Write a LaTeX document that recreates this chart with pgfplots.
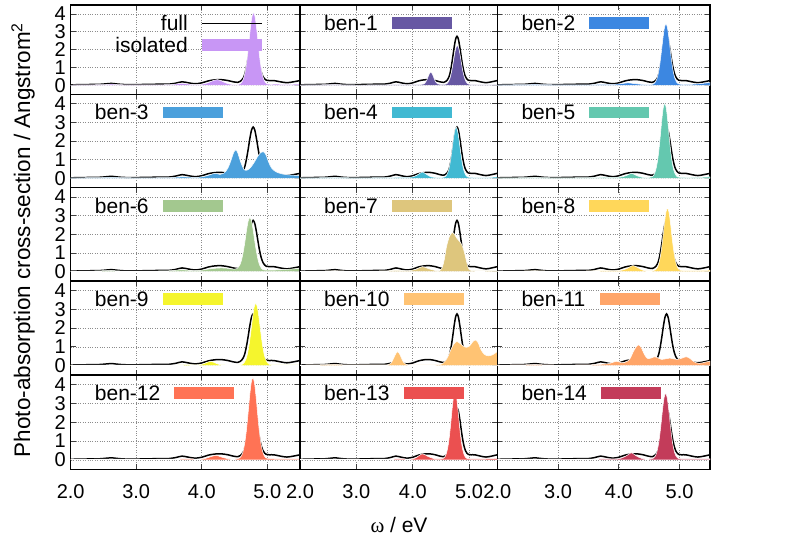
\documentclass[border=0pt]{standalone}
\usepackage{fontspec}
\setmainfont{Liberation Sans}
\newfontfamily\grk{Liberation Serif}
\usepackage{pgfplots}
\usepackage{pgfplotstable}
\pgfplotsset{compat=1.18}
\newcommand\lbl{\fontsize{21}{25}\selectfont}
\newcommand\tlbl{\fontsize{20}{24}\selectfont}
\newcommand\ylbl{\fontsize{22.5}{27}\selectfont}
\definecolor{ciso}{RGB}{200,150,245}
\definecolor{cb1}{RGB}{103,88,163}
\definecolor{cb2}{RGB}{60,135,225}
\definecolor{cb3}{RGB}{75,160,220}
\definecolor{cb4}{RGB}{65,185,210}
\definecolor{cb5}{RGB}{100,200,175}
\definecolor{cb6}{RGB}{163,200,143}
\definecolor{cb7}{RGB}{222,198,125}
\definecolor{cb8}{RGB}{255,215,90}
\definecolor{cb9}{RGB}{245,245,45}
\definecolor{cb10}{RGB}{255,195,115}
\definecolor{cb11}{RGB}{255,165,105}
\definecolor{cb12}{RGB}{255,115,85}
\definecolor{cb13}{RGB}{235,80,80}
\definecolor{cb14}{RGB}{195,60,90}

\pgfplotstableread{
x y
2.00 0.03
2.15 0.04
2.30 0.05
2.45 0.06
2.55 0.09
2.62 0.11
2.70 0.08
2.80 0.05
2.95 0.04
3.10 0.05
3.25 0.06
3.40 0.07
3.50 0.07
3.60 0.12
3.70 0.20
3.80 0.14
3.90 0.09
4.00 0.14
4.10 0.25
4.20 0.31
4.30 0.32
4.40 0.27
4.48 0.20
4.55 0.17
4.585 0.22
4.61 0.29
4.635 0.42
4.66 0.66
4.685 1.07
4.71 1.58
4.735 2.14
4.76 2.58
4.785 2.75
4.81 2.58
4.835 2.14
4.86 1.60
4.885 1.10
4.91 0.73
4.935 0.49
4.96 0.36
4.985 0.29
5.03 0.27
5.10 0.27
5.20 0.20
5.30 0.15
5.40 0.20
5.50 0.27
}\tfull

\pgfplotstableread{
x y
2.00 0.02
2.30 0.03
2.55 0.05
2.62 0.07
2.70 0.05
2.85 0.03
3.20 0.03
3.50 0.04
3.62 0.08
3.70 0.12
3.80 0.07
3.90 0.04
4.00 0.06
4.10 0.15
4.18 0.28
4.24 0.32
4.30 0.25
4.38 0.12
4.46 0.05
4.54 0.03
4.59 0.09
4.615 0.20
4.64 0.41
4.665 0.80
4.69 1.41
4.715 2.22
4.74 3.11
4.765 3.82
4.79 4.08
4.815 3.82
4.84 3.11
4.865 2.22
4.89 1.41
4.915 0.80
4.94 0.41
4.965 0.20
4.99 0.09
5.05 0.06
5.15 0.07
5.25 0.05
5.38 0.06
5.50 0.08
}\tiso

\pgfplotstableread{
x y
2.00 0.02
2.60 0.04
3.00 0.02
3.60 0.03
3.75 0.05
3.90 0.03
4.05 0.04
4.15 0.05
4.20 0.08
4.23 0.18
4.26 0.38
4.29 0.62
4.32 0.74
4.35 0.62
4.38 0.38
4.41 0.18
4.44 0.08
4.50 0.05
4.56 0.05
4.59 0.07
4.615 0.12
4.64 0.24
4.665 0.45
4.69 0.78
4.715 1.22
4.74 1.70
4.765 2.09
4.79 2.23
4.815 2.09
4.84 1.70
4.865 1.22
4.89 0.78
4.915 0.45
4.94 0.24
4.965 0.12
4.99 0.07
5.05 0.04
5.30 0.03
5.50 0.04
}\tbA

\pgfplotstableread{
x y
2.00 0.02
2.60 0.05
3.00 0.03
3.50 0.03
3.70 0.06
3.90 0.05
4.05 0.10
4.15 0.14
4.25 0.10
4.40 0.05
4.52 0.04
4.575 0.09
4.60 0.18
4.625 0.36
4.65 0.69
4.675 1.20
4.70 1.88
4.725 2.62
4.75 3.22
4.775 3.44
4.80 3.22
4.825 2.62
4.85 1.88
4.875 1.20
4.90 0.69
4.925 0.36
4.95 0.18
4.975 0.09
5.03 0.05
5.20 0.06
5.35 0.10
5.50 0.16
}\tbB

\pgfplotstableread{
x y
2.00 0.02
2.60 0.05
3.00 0.03
3.50 0.04
3.70 0.08
3.90 0.05
4.00 0.08
4.10 0.16
4.20 0.27
4.28 0.21
4.34 0.28
4.40 0.55
4.45 1.00
4.49 1.40
4.52 1.52
4.55 1.36
4.60 0.82
4.65 0.46
4.70 0.45
4.75 0.60
4.80 0.85
4.85 1.15
4.90 1.38
4.94 1.43
4.98 1.26
5.02 0.88
5.07 0.53
5.15 0.32
5.25 0.22
5.35 0.18
5.50 0.15
}\tbC

\pgfplotstableread{
x y
2.00 0.02
2.60 0.04
3.00 0.03
3.60 0.04
3.75 0.06
3.90 0.05
4.00 0.08
4.08 0.18
4.17 0.34
4.25 0.20
4.32 0.08
4.45 0.04
4.53 0.05
4.57 0.08
4.595 0.15
4.62 0.30
4.645 0.55
4.67 0.96
4.695 1.50
4.72 2.09
4.745 2.56
4.77 2.74
4.795 2.56
4.82 2.09
4.845 1.50
4.87 0.96
4.895 0.55
4.92 0.30
4.945 0.15
4.97 0.08
5.03 0.05
5.30 0.04
5.50 0.08
}\tbD

\pgfplotstableread{
x y
2.00 0.02
2.60 0.04
3.00 0.03
3.60 0.04
3.75 0.06
3.95 0.05
4.05 0.08
4.13 0.16
4.21 0.27
4.29 0.15
4.38 0.06
4.48 0.04
4.555 0.10
4.58 0.21
4.605 0.42
4.63 0.80
4.655 1.39
4.68 2.19
4.705 3.06
4.73 3.76
4.755 4.02
4.78 3.76
4.805 3.06
4.83 2.19
4.855 1.39
4.88 0.80
4.905 0.42
4.93 0.21
4.955 0.10
5.02 0.05
5.30 0.05
5.50 0.08
}\tbE

\pgfplotstableread{
x y
2.00 0.02
2.30 0.03
2.60 0.06
2.80 0.03
3.20 0.03
3.50 0.05
3.70 0.10
3.85 0.06
4.00 0.08
4.10 0.14
4.20 0.18
4.30 0.20
4.40 0.18
4.48 0.14
4.535 0.16
4.56 0.24
4.585 0.38
4.61 0.65
4.635 1.07
4.66 1.62
4.685 2.23
4.71 2.72
4.735 2.90
4.76 2.72
4.785 2.23
4.81 1.62
4.835 1.07
4.86 0.63
4.885 0.34
4.91 0.18
4.935 0.11
5.00 0.08
5.20 0.10
5.40 0.15
5.50 0.18
}\tbF

\pgfplotstableread{
x y
2.00 0.02
2.60 0.04
3.00 0.03
3.50 0.04
3.70 0.07
3.90 0.05
4.05 0.12
4.17 0.27
4.28 0.16
4.40 0.06
4.48 0.06
4.52 0.20
4.56 0.65
4.60 1.35
4.65 1.88
4.70 2.10
4.74 2.00
4.78 1.80
4.82 1.66
4.87 1.45
4.91 1.10
4.95 0.60
4.98 0.25
5.02 0.08
5.10 0.05
5.30 0.05
5.50 0.06
}\tbG

\pgfplotstableread{
x y
2.00 0.02
2.60 0.04
3.00 0.03
3.60 0.04
3.75 0.06
3.95 0.05
4.05 0.08
4.14 0.18
4.23 0.33
4.31 0.22
4.40 0.07
4.52 0.04
4.60 0.09
4.625 0.18
4.65 0.36
4.675 0.68
4.70 1.18
4.725 1.85
4.75 2.59
4.775 3.18
4.80 3.40
4.825 3.18
4.85 2.59
4.875 1.85
4.90 1.18
4.925 0.68
4.95 0.36
4.975 0.18
5.00 0.09
5.06 0.06
5.30 0.06
5.50 0.08
}\tbH

\pgfplotstableread{
x y
2.00 0.02
2.60 0.03
3.00 0.02
3.60 0.03
3.75 0.05
3.95 0.04
4.03 0.10
4.10 0.20
4.15 0.22
4.22 0.12
4.30 0.04
4.50 0.03
4.60 0.04
4.625 0.08
4.65 0.17
4.675 0.34
4.70 0.65
4.725 1.15
4.75 1.80
4.775 2.52
4.80 3.10
4.825 3.31
4.85 3.10
4.875 2.52
4.90 1.80
4.925 1.15
4.95 0.65
4.975 0.34
5.00 0.17
5.025 0.08
5.10 0.04
5.50 0.04
}\tbI

\pgfplotstableread{
x y
2.00 0.03
2.30 0.04
2.60 0.07
2.80 0.04
3.20 0.04
3.50 0.04
3.58 0.06
3.62 0.15
3.66 0.38
3.70 0.64
3.73 0.74
3.76 0.66
3.80 0.40
3.84 0.16
3.89 0.05
3.95 0.04
4.20 0.04
4.45 0.05
4.53 0.10
4.58 0.25
4.63 0.52
4.68 0.88
4.73 1.15
4.78 1.28
4.83 1.20
4.89 1.05
4.95 0.97
5.01 1.05
5.06 1.25
5.11 1.36
5.16 1.22
5.21 0.85
5.27 0.60
5.34 0.52
5.42 0.58
5.50 0.75
}\tbJ

\pgfplotstableread{
x y
2.00 0.02
2.60 0.05
3.00 0.03
3.50 0.04
3.75 0.08
3.85 0.12
3.96 0.23
4.05 0.15
4.12 0.20
4.18 0.35
4.24 0.75
4.29 1.02
4.33 1.10
4.37 0.95
4.42 0.60
4.47 0.38
4.53 0.40
4.59 0.47
4.65 0.40
4.70 0.33
4.77 0.36
4.84 0.40
4.90 0.36
4.96 0.33
5.04 0.40
5.11 0.47
5.17 0.38
5.24 0.20
5.32 0.12
5.42 0.18
5.50 0.24
}\tbK

\pgfplotstableread{
x y
2.00 0.02
2.60 0.04
3.00 0.03
3.60 0.04
3.75 0.06
3.95 0.04
4.05 0.07
4.14 0.17
4.22 0.24
4.30 0.15
4.40 0.06
4.50 0.04
4.58 0.10
4.605 0.21
4.63 0.44
4.655 0.85
4.68 1.50
4.705 2.37
4.73 3.32
4.755 4.08
4.78 4.36
4.805 4.08
4.83 3.32
4.855 2.37
4.88 1.50
4.905 0.85
4.93 0.44
4.955 0.21
4.98 0.10
5.05 0.07
5.20 0.05
5.50 0.05
}\tbL

\pgfplotstableread{
x y
2.00 0.02
2.60 0.04
3.00 0.03
3.60 0.04
3.75 0.06
3.95 0.04
4.05 0.10
4.17 0.32
4.27 0.18
4.38 0.06
4.48 0.05
4.55 0.09
4.575 0.18
4.60 0.37
4.625 0.71
4.65 1.24
4.675 1.95
4.70 2.74
4.725 3.36
4.75 3.59
4.775 3.36
4.80 2.74
4.825 1.95
4.85 1.24
4.875 0.71
4.90 0.37
4.925 0.18
4.95 0.09
5.05 0.05
5.30 0.06
5.50 0.08
}\tbM

\pgfplotstableread{
x y
2.00 0.02
2.60 0.04
3.00 0.03
3.60 0.04
3.75 0.06
3.95 0.05
4.05 0.10
4.14 0.25
4.21 0.38
4.28 0.22
4.38 0.07
4.48 0.04
4.57 0.09
4.595 0.18
4.62 0.36
4.645 0.70
4.67 1.22
4.695 1.92
4.72 2.69
4.745 3.30
4.77 3.53
4.795 3.30
4.82 2.69
4.845 1.92
4.87 1.22
4.895 0.70
4.92 0.36
4.945 0.18
4.97 0.09
5.05 0.05
5.30 0.05
5.50 0.06
}\tbN

\pgfplotsset{
  panel/.style={scale only axis, anchor=north west,
    xmin=2, xmax=5.5, ymin=-0.5, ymax=4.5,
    xtick={2,3,4,5}, ytick={0,1,2,3,4},
    xticklabels={}, yticklabels={},
    tick align=inside, major tick length=5pt,
    tick style={black!75, line width=0.8pt},
    xtick pos=both, ytick pos=both,
    grid=major, grid style={dotted, black!45, line width=0.6pt},
    axis line style={black, line width=1.2pt},
    tick label style={font=\tlbl}},
  bl/.style={xticklabels={2.0,3.0,4.0,5.0},
    x tick label style={anchor=base, yshift=-28.7pt}},
  lc/.style={yticklabels={0,1,2,3,4}, y tick label style={xshift=-1.5pt, inner ysep=0pt}},
}
\newcommand\fullcurve{\addplot[black, line width=1.5pt, smooth] table {\tfull};}
\newcommand\spec[2]{\addplot[fill=#1, draw=white, line width=0.5pt, smooth] table {#2} \closedcycle;}
\newcommand\leg[2]{\node[anchor=west, inner sep=0pt, font=\lbl, xshift=24pt, yshift=-18pt] (L) at (rel axis cs:0,1) {#1};
  \fill[#2] ([xshift=14pt, yshift=-5.8pt]L.east) rectangle ++(60pt,11.6pt);}

\begin{document}
\begin{tikzpicture}
\useasboundingbox (0,0) rectangle (789pt,-552pt);
% row 1
\begin{axis}[panel, lc, at={(70.7pt,-5pt)}, width=229.3pt, height=89.3pt]
\fullcurve
\spec{ciso}{\tiso}
\node[anchor=east, inner sep=0pt, font=\lbl, xshift=117.3pt, yshift=-18.3pt] (A) at (rel axis cs:0,1) {full};
\draw[black, line width=1.5pt] ([xshift=14pt]A.east) -- ++(60pt,0pt);
\node[anchor=east, inner sep=0pt, font=\lbl, xshift=117.3pt, yshift=-40pt] (B) at (rel axis cs:0,1) {isolated};
\fill[ciso] ([xshift=14pt, yshift=-5.8pt]B.east) rectangle ++(60pt,11.6pt);
\end{axis}
\begin{axis}[panel, at={(300pt,-5pt)}, width=197.3pt, height=89.3pt]
\fullcurve \spec{cb1}{\tbA} \leg{ben-1}{cb1}
\end{axis}
\begin{axis}[panel, at={(497.3pt,-5pt)}, width=212.7pt, height=89.3pt]
\fullcurve \spec{cb2}{\tbB} \leg{ben-2}{cb2}
\end{axis}
% row 2
\begin{axis}[panel, lc, at={(70.7pt,-94.3pt)}, width=229.3pt, height=93.4pt]
\fullcurve \spec{cb3}{\tbC} \leg{ben-3}{cb3}
\end{axis}
\begin{axis}[panel, at={(300pt,-94.3pt)}, width=197.3pt, height=93.4pt]
\fullcurve \spec{cb4}{\tbD} \leg{ben-4}{cb4}
\end{axis}
\begin{axis}[panel, at={(497.3pt,-94.3pt)}, width=212.7pt, height=93.4pt]
\fullcurve \spec{cb5}{\tbE} \leg{ben-5}{cb5}
\end{axis}
% row 3
\begin{axis}[panel, lc, at={(70.7pt,-187.7pt)}, width=229.3pt, height=93.3pt]
\fullcurve \spec{cb6}{\tbF} \leg{ben-6}{cb6}
\end{axis}
\begin{axis}[panel, at={(300pt,-187.7pt)}, width=197.3pt, height=93.3pt]
\fullcurve \spec{cb7}{\tbG} \leg{ben-7}{cb7}
\end{axis}
\begin{axis}[panel, at={(497.3pt,-187.7pt)}, width=212.7pt, height=93.3pt]
\fullcurve \spec{cb8}{\tbH} \leg{ben-8}{cb8}
\end{axis}
% row 4
\begin{axis}[panel, lc, at={(70.7pt,-281pt)}, width=229.3pt, height=94pt]
\fullcurve \spec{cb9}{\tbI} \leg{ben-9}{cb9}
\end{axis}
\begin{axis}[panel, at={(300pt,-281pt)}, width=197.3pt, height=94pt]
\fullcurve \spec{cb10}{\tbJ} \leg{ben-10}{cb10}
\end{axis}
\begin{axis}[panel, at={(497.3pt,-281pt)}, width=212.7pt, height=94pt]
\fullcurve \spec{cb11}{\tbK} \leg{ben-11}{cb11}
\end{axis}
% row 5
\begin{axis}[panel, lc, bl, at={(70.7pt,-375pt)}, width=229.3pt, height=94.3pt]
\fullcurve \spec{cb12}{\tbL} \leg{ben-12}{cb12}
\end{axis}
\begin{axis}[panel, bl, at={(300pt,-375pt)}, width=197.3pt, height=94.3pt]
\fullcurve \spec{cb13}{\tbM} \leg{ben-13}{cb13}
\end{axis}
\begin{axis}[panel, bl, at={(497.3pt,-375pt)}, width=212.7pt, height=94.3pt]
\fullcurve \spec{cb14}{\tbN} \leg{ben-14}{cb14}
\end{axis}
\node[rotate=90, anchor=base, font=\ylbl] at (30pt,-240pt) {Photo-absorption cross-section / Angstrom\textsuperscript{2}};
\node[anchor=base, font=\lbl] at (399pt,-532pt) {{\grk ω} / eV};
\end{tikzpicture}
\end{document}
